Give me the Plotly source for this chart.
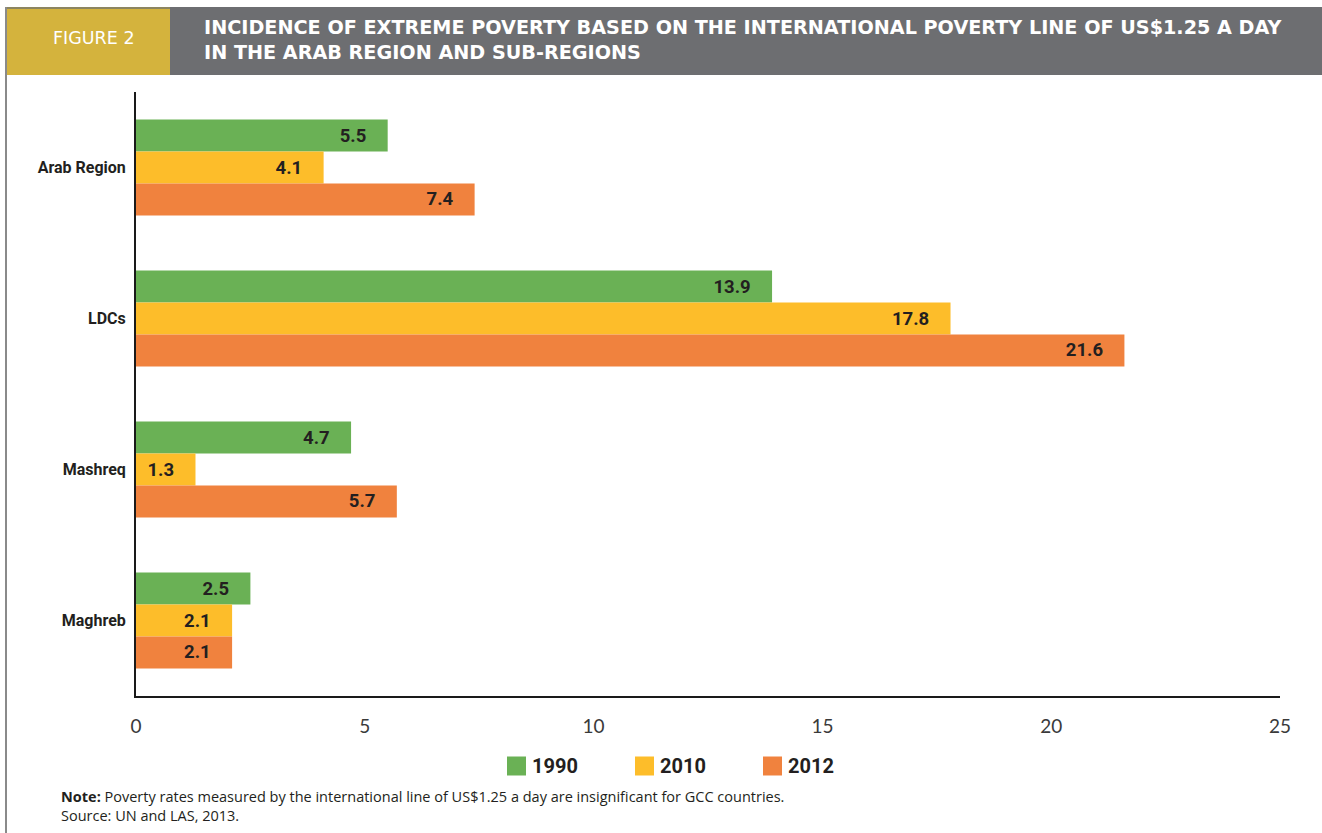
import plotly.graph_objects as go

# Data
regions = ["Arab Region", "LDCs", "Mashreq", "Maghreb"]
years = ["1990", "2010", "2012"]
rate_1990 = [5.5, 13.9, 4.7, 2.5]
rate_2010 = [4.1, 17.8, 1.3, 2.1]
rate_2012 = [7.4, 21.6, 5.7, 2.1]
x_ticks = [0, 5, 10, 15, 20, 25]

series = [rate_1990, rate_2010, rate_2012]
colors = ["#6ab155", "#fdbd2a", "#f0823e"]

title_text = ("INCIDENCE OF EXTREME POVERTY BASED ON THE INTERNATIONAL POVERTY LINE OF US$1.25 A DAY"
              "<br>IN THE ARAB REGION AND SUB-REGIONS")
note_text = ("<b>Note:</b> Poverty rates measured by the international line of US$1.25 a day "
             "are insignificant for GCC countries.<br>Source: UN and LAS, 2013.")

W, H = 1322, 833
ML, MR, MT, MB = 136, 42, 92, 137
PW, PH = W - ML - MR, H - MT - MB

COND = "Roboto, Lato, sans-serif"
TEXT_DARK = "#231f20"


def px(x):
    return (x - ML) / PW


def py(y):
    return 1 - (y - MT) / PH


fig = go.Figure()
pad = "\u00a0" * 4
for name, vals, col in zip(years, series, colors):
    fig.add_trace(go.Bar(
        y=regions, x=vals, name=name, orientation="h",
        marker=dict(color=col, line=dict(width=0)),
        texttemplate="%{x:.1f}" + pad, textposition="inside",
        insidetextanchor="end", textangle=0, constraintext="none",
        textfont=dict(family=COND, size=18.5, color=TEXT_DARK, weight="bold"),
        showlegend=False, hoverinfo="x+y",
    ))

shapes = [
    # header band
    dict(type="rect", xref="paper", yref="paper", x0=px(6), x1=px(W), y0=py(75), y1=py(7),
         fillcolor="#6d6e71", line=dict(width=0), layer="below"),
    dict(type="rect", xref="paper", yref="paper", x0=px(6), x1=px(170), y0=py(75), y1=py(7),
         fillcolor="#d4b33d", line=dict(width=0), layer="below"),
    dict(type="rect", xref="paper", yref="paper", x0=px(6), x1=px(170), y0=py(9), y1=py(7),
         fillcolor="#8c8560", line=dict(width=0), layer="below"),
    # left frame line
    dict(type="line", xref="paper", yref="paper", x0=px(6), x1=px(6), y0=py(H), y1=py(7),
         line=dict(color="#8a8a8a", width=2)),
]

annotations = [
    dict(text="FIGURE 2", xref="paper", yref="paper", x=px(94), y=py(38),
         xanchor="center", yanchor="middle", showarrow=False,
         font=dict(family="DejaVu Sans, sans-serif", size=17.5, color="white")),
    dict(text=title_text, xref="paper", yref="paper", x=px(202), y=py(40),
         xanchor="left", yanchor="middle", align="left", showarrow=False,
         font=dict(family="DejaVu Sans, sans-serif", size=19.2, color="white", weight="bold")),
    dict(text=note_text, xref="paper", yref="paper", x=px(59), y=py(806),
         xanchor="left", yanchor="middle", align="left", showarrow=False,
         font=dict(family="Open Sans, Lato, sans-serif", size=14.5, color=TEXT_DARK)),
]

# legend drawn as swatches with labels
leg_x0, leg_step, leg_y, sw = 507, 128, 766, 19
for i, (name, col) in enumerate(zip(years, colors)):
    x0 = leg_x0 + i * leg_step
    shapes.append(dict(type="rect", xref="paper", yref="paper",
                       x0=px(x0), x1=px(x0 + sw), y0=py(leg_y + sw / 2), y1=py(leg_y - sw / 2),
                       fillcolor=col, line=dict(width=0)))
    annotations.append(dict(text=name, xref="paper", yref="paper", x=px(x0 + sw + 4), y=py(leg_y),
                            xanchor="left", yanchor="middle", showarrow=False,
                            font=dict(family=COND, size=20, color=TEXT_DARK, weight="bold")))

fig.update_layout(
    width=W, height=H, autosize=False,
    margin=dict(l=ML, r=MR, t=MT, b=MB),
    paper_bgcolor="white", plot_bgcolor="white",
    barmode="group", bargap=0.365, bargroupgap=0,
    shapes=shapes, annotations=annotations,
    xaxis=dict(range=[0, 25], tickvals=x_ticks, showgrid=False, zeroline=False,
               showline=True, linecolor="#1a1a1a", linewidth=2, ticks="",
               ticklabelstandoff=12,
               tickfont=dict(family="Lato, Open Sans, sans-serif", size=19, color="#3a3a3a")),
    yaxis=dict(autorange="reversed", showgrid=False, zeroline=False,
               showline=True, linecolor="#1a1a1a", linewidth=2, ticks="",
               ticklabelstandoff=5,
               tickfont=dict(family=COND, size=16, color=TEXT_DARK, weight="bold")),
)

fig.write_html("out.html")
